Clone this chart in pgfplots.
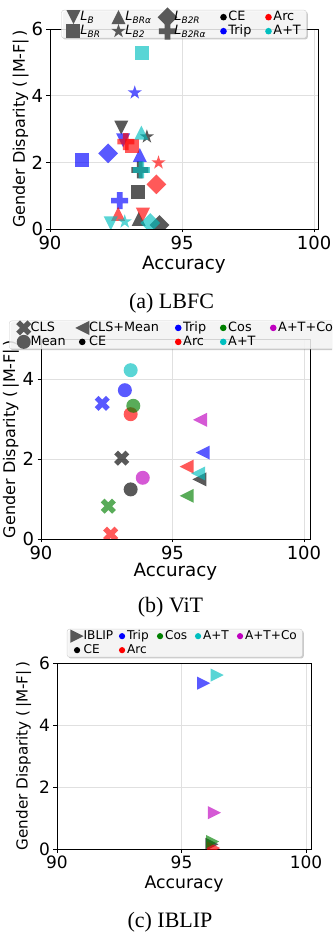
\documentclass[border=0pt]{standalone}
\usepackage{fontspec}
\setmainfont{DejaVu Sans}
\newfontfamily\capfont{Liberation Serif}
\usepackage{pgfplots}
\pgfplotsset{compat=1.18}
\usetikzlibrary{shadows}

\definecolor{cCE}{RGB}{0,0,0}
\definecolor{cArc}{RGB}{255,0,0}
\definecolor{cTrip}{RGB}{0,0,255}
\definecolor{cAT}{RGB}{0,191,191}
\definecolor{cCos}{RGB}{0,128,0}
\definecolor{cATC}{RGB}{191,0,191}
\definecolor{lgray}{RGB}{89,89,89}

\pgfdeclareplotmark{tri}{%
  \pgfpathmoveto{\pgfqpoint{0pt}{\pgfplotmarksize}}%
  \pgfpathlineto{\pgfqpoint{-\pgfplotmarksize}{-\pgfplotmarksize}}%
  \pgfpathlineto{\pgfqpoint{\pgfplotmarksize}{-\pgfplotmarksize}}%
  \pgfpathclose\pgfusepathqfill}
\pgfdeclareplotmark{fsq}{%
  \pgfpathrectangle{\pgfqpoint{-\pgfplotmarksize}{-\pgfplotmarksize}}{\pgfqpoint{2\pgfplotmarksize}{2\pgfplotmarksize}}%
  \pgfusepathqfill}
\pgfdeclareplotmark{fcirc}{%
  \pgfpathcircle{\pgfpointorigin}{\pgfplotmarksize}\pgfusepathqfill}
\pgfdeclareplotmark{fstar}{%
  \pgfpathmoveto{\pgfqpoint{0pt}{\pgfplotmarksize}}%
  \pgfpathlineto{\pgfqpoint{-0.2245\pgfplotmarksize}{0.309\pgfplotmarksize}}%
  \pgfpathlineto{\pgfqpoint{-0.951\pgfplotmarksize}{0.309\pgfplotmarksize}}%
  \pgfpathlineto{\pgfqpoint{-0.363\pgfplotmarksize}{-0.118\pgfplotmarksize}}%
  \pgfpathlineto{\pgfqpoint{-0.588\pgfplotmarksize}{-0.809\pgfplotmarksize}}%
  \pgfpathlineto{\pgfqpoint{0pt}{-0.382\pgfplotmarksize}}%
  \pgfpathlineto{\pgfqpoint{0.588\pgfplotmarksize}{-0.809\pgfplotmarksize}}%
  \pgfpathlineto{\pgfqpoint{0.363\pgfplotmarksize}{-0.118\pgfplotmarksize}}%
  \pgfpathlineto{\pgfqpoint{0.951\pgfplotmarksize}{0.309\pgfplotmarksize}}%
  \pgfpathlineto{\pgfqpoint{0.2245\pgfplotmarksize}{0.309\pgfplotmarksize}}%
  \pgfpathclose\pgfusepathqfill}
\pgfdeclareplotmark{fplus}{%
  \pgfpathmoveto{\pgfqpoint{-0.3333\pgfplotmarksize}{-\pgfplotmarksize}}%
  \pgfpathlineto{\pgfqpoint{0.3333\pgfplotmarksize}{-\pgfplotmarksize}}%
  \pgfpathlineto{\pgfqpoint{0.3333\pgfplotmarksize}{-0.3333\pgfplotmarksize}}%
  \pgfpathlineto{\pgfqpoint{\pgfplotmarksize}{-0.3333\pgfplotmarksize}}%
  \pgfpathlineto{\pgfqpoint{\pgfplotmarksize}{0.3333\pgfplotmarksize}}%
  \pgfpathlineto{\pgfqpoint{0.3333\pgfplotmarksize}{0.3333\pgfplotmarksize}}%
  \pgfpathlineto{\pgfqpoint{0.3333\pgfplotmarksize}{\pgfplotmarksize}}%
  \pgfpathlineto{\pgfqpoint{-0.3333\pgfplotmarksize}{\pgfplotmarksize}}%
  \pgfpathlineto{\pgfqpoint{-0.3333\pgfplotmarksize}{0.3333\pgfplotmarksize}}%
  \pgfpathlineto{\pgfqpoint{-\pgfplotmarksize}{0.3333\pgfplotmarksize}}%
  \pgfpathlineto{\pgfqpoint{-\pgfplotmarksize}{-0.3333\pgfplotmarksize}}%
  \pgfpathlineto{\pgfqpoint{-0.3333\pgfplotmarksize}{-0.3333\pgfplotmarksize}}%
  \pgfpathclose\pgfusepathqfill}

% data point: color, mark, size, rotation, x, y
\newcommand{\pt}[6]{\addplot[forget plot, only marks, mark=#2, mark size=#3,
  mark options={rotate=#4, fill=#1, draw=none, fill opacity=0.65}] coordinates {(#5,#6)};}
\newcommand{\LB}[3]{\pt{#1}{tri}{7pt}{180}{#2}{#3}}
\newcommand{\LBR}[3]{\pt{#1}{fsq}{7pt}{0}{#2}{#3}}
\newcommand{\LBRa}[3]{\pt{#1}{tri}{7pt}{0}{#2}{#3}}
\newcommand{\LBt}[3]{\pt{#1}{fstar}{7.4pt}{0}{#2}{#3}}
\newcommand{\LBtR}[3]{\pt{#1}{fsq}{7pt}{45}{#2}{#3}}
\newcommand{\LBtRa}[3]{\pt{#1}{fplus}{8.5pt}{0}{#2}{#3}}
\newcommand{\CLS}[3]{\pt{#1}{fplus}{8pt}{45}{#2}{#3}}
\newcommand{\MEAN}[3]{\pt{#1}{fcirc}{7pt}{0}{#2}{#3}}
\newcommand{\CM}[3]{\pt{#1}{tri}{7pt}{90}{#2}{#3}}
\newcommand{\IB}[3]{\pt{#1}{tri}{6.6pt}{-90}{#2}{#3}}

% legend images (basic layer, so that the legend box style is not inherited)
% mark, size, rotation, text, half width (number, pt)
\newcommand{\limg}[5]{\addlegendimage{legend image code/.code={%
  \begin{pgfscope}\begin{pgfinterruptboundingbox}%
  \pgfsetfillcolor{lgray}\pgfsetfillopacity{1}\pgftransformrotate{#3}%
  \pgfsetplotmarksize{#2}\pgfuseplotmark{#1}%
  \end{pgfinterruptboundingbox}\end{pgfscope}%
  \pgfpathrectanglecorners{\pgfqpoint{-#5pt}{-7pt}}{\pgfqpoint{#5pt}{7pt}}\pgfusepath{}}}%
  \addlegendentry{#4}}
% colour, text, radius
\newcommand{\ldot}[3]{\addlegendimage{legend image code/.code={%
  \begin{pgfscope}%
  \pgfsetfillcolor{#1}\pgfsetfillopacity{1}%
  \pgfpathcircle{\pgfpointorigin}{#3}\pgfusepath{fill}%
  \end{pgfscope}%
  \pgfpathrectanglecorners{\pgfqpoint{-5pt}{-7pt}}{\pgfqpoint{5pt}{7pt}}\pgfusepath{}}}%
  \addlegendentry{#2}}
\newcommand{\Ls}[1]{\textit{L}\textsubscript{\textit{#1}}}

\pgfplotsset{
  common/.style={
    scale only axis,
    axis line style={black, line width=0.8pt},
    tick align=outside, xtick pos=left, ytick pos=left,
    major tick length=3.5pt,
    every tick/.style={black, line width=0.8pt},
    grid=major, major grid style={black!12, line width=0.6pt},
    /pgf/number format/assume math mode=true,
    xlabel={Accuracy},
    ylabel={Gender Disparity (\hspace{2.5pt}|M-F|\hspace{2.5pt})},
    clip marker paths=true,
    xtick={90,95,100},
    ymin=0, xmin=90,
  },
  lgd/.style n args={3}{
    legend columns=5, legend cell align=left,
    legend style={at={(#2,#3)}, anchor=north, draw=black!20, rounded corners=2.5pt,
      fill=white, fill opacity=0.8, text opacity=1, draw opacity=1,
      inner xsep=#1, inner ysep=0pt, column sep=0pt, row sep=0pt,
      nodes={inner sep=0pt, text height=0.73em, text depth=0pt},
      drop shadow={shadow xshift=1.3pt, shadow yshift=-1.3pt, opacity=0.35, fill=black!60}},
  },
}

\begin{document}
\begin{tikzpicture}
\path[use as bounding box] (0pt,0pt) rectangle (332pt,937pt);
\clip (0pt,0pt) rectangle (332pt,937pt);

% ---------------- (a) LBFC ----------------
\begin{axis}[common, at={(50pt,708pt)}, anchor=south west,
  width=268pt, height=200pt, xmax=100.15, ymax=6, ytick={0,2,4,6},
  tick label style={font=\fontsize{18}{18}\selectfont},
  xlabel style={font=\fontsize{18.3}{18}\selectfont, at={([yshift=-36pt]axis description cs:0.5,0)}, anchor=center},
  ylabel style={font=\fontsize{16}{16}\selectfont, at={([xshift=-29.3pt]axis description cs:0,0.5)}, anchor=center},
  lgd={5pt}{0.5}{1.095},
  legend style={font=\fontsize{12.8}{13}\selectfont}]
\limg{tri}{7pt}{180}{\makebox[31pt][l]{\Ls{B}}}{7}
\limg{tri}{7pt}{0}{\makebox[35pt][l]{\Ls{BRα}}}{7}
\limg{fsq}{7pt}{45}{\makebox[44pt][l]{\Ls{B2R}}}{7}
\ldot{cCE}{\makebox[35pt][l]{CE}}{3.3pt}
\ldot{cArc}{\makebox[28pt][l]{Arc}}{3.3pt}
\limg{fsq}{7pt}{0}{\makebox[31pt][l]{\Ls{BR}}}{7}
\limg{fstar}{7.4pt}{0}{\makebox[35pt][l]{\Ls{B2}}}{7}
\limg{fplus}{8.5pt}{0}{\makebox[44pt][l]{\Ls{B2Rα}}}{7}
\ldot{cTrip}{\makebox[35pt][l]{Trip}}{3.3pt}
\ldot{cAT}{\makebox[28pt][l]{A+T}}{3.3pt}
% CE
\LB{cCE}{92.70}{3.04}
\LBR{cCE}{93.33}{1.12}
\LBRa{cCE}{93.36}{0.30}
\LBt{cCE}{93.67}{2.77}
\LBtR{cCE}{94.15}{0.12}
\LBtRa{cCE}{93.40}{1.77}
% Trip
\LB{cTrip}{92.77}{2.66}
\LBR{cTrip}{91.23}{2.07}
\LBRa{cTrip}{93.40}{2.22}
\LBt{cTrip}{93.21}{4.09}
\LBtR{cTrip}{92.20}{2.27}
\LBtRa{cTrip}{92.64}{0.85}
% Arc
\LB{cArc}{93.52}{0.43}
\LBR{cArc}{93.10}{2.49}
\LBRa{cArc}{92.58}{0.45}
\LBt{cArc}{94.11}{1.99}
\LBtR{cArc}{94.03}{1.34}
\LBtRa{cArc}{92.87}{2.62}
% A+T
\LB{cAT}{92.30}{0.17}
\LBR{cAT}{93.47}{5.28}
\LBRa{cAT}{93.46}{2.89}
\LBt{cAT}{92.83}{0.22}
\LBtR{cAT}{93.80}{0.18}
\LBtRa{cAT}{93.46}{1.77}
\end{axis}

% ---------------- (b) ViT ----------------
\begin{axis}[common, at={(41pt,398pt)}, anchor=south west,
  width=269pt, height=200pt, xmax=100.23, ymax=5, ytick={0,2,4},
  tick label style={font=\fontsize{18}{18}\selectfont},
  xlabel style={font=\fontsize{18.3}{18}\selectfont, at={([yshift=-33pt]axis description cs:0.5,0)}, anchor=center},
  ylabel style={font=\fontsize{16}{16}\selectfont, at={([xshift=-30pt]axis description cs:0,0.5)}, anchor=center},
  lgd={7.5pt}{0.5}{1.0915},
  legend style={font=\fontsize{12.8}{13}\selectfont}]
\limg{fplus}{8pt}{45}{\makebox[44.5pt][l]{CLS}}{7}
\limg{tri}{7pt}{90}{\makebox[84pt][l]{CLS+Mean}}{7}
\ldot{cTrip}{\makebox[35pt][l]{Trip}}{3.3pt}
\ldot{cCos}{\makebox[40pt][l]{Cos}}{3.3pt}
\ldot{cATC}{\makebox[56pt][l]{A+T+Co}}{3.3pt}
\limg{fcirc}{7pt}{0}{\makebox[44.5pt][l]{Mean}}{7}
\ldot{cCE}{\makebox[84pt][l]{CE}}{3.3pt}
\ldot{cArc}{\makebox[35pt][l]{Arc}}{3.3pt}
\ldot{cAT}{\makebox[40pt][l]{A+T}}{3.3pt}
% CE
\CLS{cCE}{93.07}{2.02}
\MEAN{cCE}{93.41}{1.24}
\CM{cCE}{96.02}{1.49}
% Trip
\CLS{cTrip}{92.33}{3.39}
\MEAN{cTrip}{93.19}{3.72}
\CM{cTrip}{96.15}{2.16}
% Arc
\CLS{cArc}{92.65}{0.12}
\MEAN{cArc}{93.41}{3.12}
\CM{cArc}{95.54}{1.81}
% Cos
\CLS{cCos}{92.56}{0.82}
\MEAN{cCos}{93.51}{3.33}
\CM{cCos}{95.54}{1.08}
% A+T
\MEAN{cAT}{93.41}{4.22}
\CM{cAT}{95.98}{1.64}
% A+T+Co
\MEAN{cATC}{93.87}{1.53}
\CM{cATC}{96.05}{2.98}
\end{axis}

% ---------------- (c) IBLIP ----------------
\begin{axis}[common, at={(57pt,88pt)}, anchor=south west,
  width=254pt, height=186pt, xmax=100.2, ymax=6, ytick={0,2,4,6},
  tick label style={font=\fontsize{17}{17}\selectfont},
  xlabel style={font=\fontsize{17.3}{17}\selectfont, at={([yshift=-35pt]axis description cs:0.5,0)}, anchor=center},
  ylabel style={font=\fontsize{15.2}{15}\selectfont, at={([xshift=-33.5pt]axis description cs:0,0.5)}, anchor=center},
  lgd={3.4pt}{0.503}{1.183},
  legend style={font=\fontsize{12.1}{12}\selectfont}]
\limg{tri}{6.6pt}{-90}{\makebox[33.4pt][l]{IBLIP}}{6.6}
\ldot{cTrip}{\makebox[28pt][l]{Trip}}{3.1pt}
\ldot{cCos}{\makebox[28pt][l]{Cos}}{3.1pt}
\ldot{cAT}{\makebox[32pt][l]{A+T}}{3.1pt}
\ldot{cATC}{\makebox[54pt][l]{A+T+Co}}{3.1pt}
\ldot{cCE}{\makebox[33.4pt][l]{CE}}{3.1pt}
\ldot{cArc}{\makebox[28pt][l]{Arc}}{3.1pt}
\IB{cCE}{96.22}{0.15}
\IB{cTrip}{95.89}{5.35}
\IB{cArc}{96.29}{0.03}
\IB{cCos}{96.25}{0.24}
\IB{cAT}{96.43}{5.61}
\IB{cATC}{96.32}{1.17}
\end{axis}

% captions
\node[anchor=base, font=\capfont\fontsize{22}{22}\selectfont] at (171.5pt,628.5pt) {(a) LBFC};
\node[anchor=base, font=\capfont\fontsize{22}{22}\selectfont] at (170.5pt,324.5pt) {(b) ViT};
\node[anchor=base, font=\capfont\fontsize{22}{22}\selectfont] at (170pt,9.5pt) {(c) IBLIP};
\end{tikzpicture}
\end{document}
